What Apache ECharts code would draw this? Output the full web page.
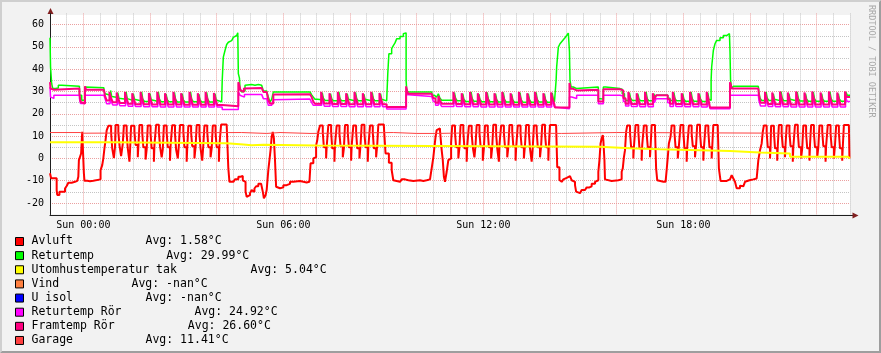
<!DOCTYPE html>
<html><head><meta charset="utf-8">
<script src="https://cdn.jsdelivr.net/npm/echarts@6/dist/echarts.min.js"></script>
<style>html,body{margin:0;padding:0;background:#f2f2f2}#c{width:881px;height:353px}</style>
</head><body><div id="c"></div>
<script>
// time in minutes relative to Sun 00:00, values in °C
const seriesNames = ['Avluft','Returtemp','Utomhustemperatur tak','Vind','U isol','Returtemp Rör','Framtemp Rör','Garage'];
const legendAvg = ['Avg: 1.58°C','Avg: 29.99°C','Avg: 5.04°C','Avg: -nan°C','Avg: -nan°C','Avg: 24.92°C','Avg: 26.60°C','Avg: 11.41°C'];
const xLabelTimes = [0, 360, 720, 1080];
const xLabelTexts = ['Sun 00:00','Sun 06:00','Sun 12:00','Sun 18:00'];
const yLabelValues = [-20,-10,0,10,20,30,40,50,60];

const avluft = [
[-60,-6.7],[-58,-8.9],[-48,-14.2],[-47,-16.4],[-43,-15],[-33,-13.5],[-30,-12.4],[-27,-10.9],[-21,-10.5],[-15,-10.1],[-11,-9.4],[-9,-8.2],[-8,-0.8],[-6,0.7],[-4,2.2],[-2,11.9],[1,-6.7],[2,-10],[7,-10.2],[12,-10],[18,-9.4],[31,-5.3],[34,-3],[36,0],[38,4.5],[40,8.2],[42,12.6],
[45,14.6],[50,11.5],[52,4.5],[55,0.2],[57,5],
[58,15],[63,12],[65,6],[68,1],[71,6.5],
[73,14.8],[78,11],[80,4.5],[83,-1.5],[84,3],
[86,14.6],[92,12],[94,6],[98,0.5],[99,5],
[101,15],[106,11.5],[108,5],[112,-0.5],[114,4],
[116,14.8],[121,11],[123,4.5],[127,-1.5],[128,6],
[131,15.1],[136,12],[138,5.5],[141,0.5],[143,4],
[145,14.7],[150,11.5],[152,5],[156,-1],[157,5.5],
[160,14.9],[165,11],[167,4],[170,0],[172,6],
[174,15],[180,12],[182,5],[186,-1.5],[187,4.5],
[189,14.6],[194,11.5],[196,5.5],[200,0],[202,5],
[204,15],[209,11],[211,4.5],[214,-1],[216,6],
[218,14.8],[223,12],[225,5],[229,0.5],[231,4.5],
[233,14.7],[238,11.5],[240,5],[244,-1.5],[245,6],
[248,15.2],[258,14.5],[261,-4.5],[263,-10.5],
[270,-10.1],[273,-9.4],[279,-8.2],[283,-7.9],[287,-9.8],[290,-10.5],[292,-14.9],[294,-17.2],[297,-16.5],[300,-15.6],[303,-14.2],[306,-15],[308,-13.5],[311,-12.5],[315,-11.4],[320,-12],[323,-14.9],[325,-17.9],[328,-16.5],[330,-14.2],[333,-5.2],[335,-0.8],[337,3.7],[339,9.7],[341,11.9],[343,9],[345,-0.8],[347,-12.7],[349,-13.4],[354,-13],[360,-12],[366,-11.4],[372,-10.5],[378,-10.1],[390,-10.5],[396,-10.8],[402,-10.5],[407,-9.8],[409,-2.2],[414,0],[417,0.5],[419,5.9],[421,8],[423,12],
[426,14.8],[431,11.5],[433,5],[437,0],[438,5],
[441,15],[446,12],[448,4.5],[452,-1.5],[453,6],
[456,14.7],[461,11],[463,5.5],[467,0.5],[469,4.5],
[471,15],[476,11.5],[478,5],[482,-1],[483,5.5],
[486,14.8],[491,12],[493,4.5],[497,0],[499,6],
[501,15.1],[506,11],[508,5],[512,-1.5],[513,5],
[516,14.7],[521,11.5],[523,4.5],[527,0.5],[529,6],
[531,15.2],[541,14],[544,2.2],[550,-2],[555,-5.2],[558,-9.8],[561,-10.5],
[570,-10.1],[573,-9.4],[579,-9.8],[585,-10.1],[594,-9.8],[606,-10.1],[612,-9.8],[618,-9.4],[624,-8.7],[627,-4.5],[630,0.5],[632,5.2],[634,9.7],[636,12.7],[639,13.4],[642,12.5],[645,3.7],[647,-0.8],[649,-8.2],[651,-10.5],[654,-6],[657,-0.8],[660,0],[662,7],
[664,14.8],[669,11.5],[671,5],[675,0],[677,5],
[679,15],[684,12],[686,4.5],[690,-1.5],[691,5.5],
[694,14.6],[699,11],[701,5],[704,0.5],[706,6],
[708,15],[713,11.5],[715,5.5],[719,-1],[721,4.5],
[723,14.8],[728,12],[730,5],[734,0],[736,5],
[738,15.1],[743,11],[745,4.5],[748,-1.5],[749,6],
[752,14.7],[757,11.5],[759,5],[763,0.5],[765,5],
[767,15],[772,12],[774,5.5],[778,-1],[779,4.5],
[782,14.8],[787,11],[789,5],[793,0],[795,6],
[797,15],[802,11.5],[804,4.5],[807,-1.5],[809,5],
[811,14.7],[816,12],[818,5],[822,0.5],[824,5.5],
[826,15.1],[831,11],[833,5],[837,-1],[838,6],
[840,15],[851,14.2],[853,-4],[857,-9.7],
[858,-10.5],[861,-10],[864,-9.4],[867,-8.7],[870,-7.9],[876,-8.5],[879,-9.8],[882,-10.5],[885,-12],[887,-14.9],[889,-15.6],[894,-15.2],[897,-14.2],[903,-13.5],[906,-13],[911,-12.5],[915,-11.4],[921,-10.5],[924,-9.8],[927,-6],[929,-0.8],[931,6.7],[933,9],[935,10.4],[936,8.2],[938,-0.8],[939,-9.4],[941,-10.1],[951,-9.8],[963,-9.6],[966,-9.4],[969,-6],[971,-4.5],[973,0.5],[975,3.7],[977,11.9],
[979,14.8],[984,11.5],[986,5],[990,0],[991,5],
[994,15],[999,12],[1001,4.5],[1005,-1],[1006,6],
[1009,14.7],[1014,11],[1016,5],[1020,0.5],[1021,5],
[1023,15],[1029,13],[1031,-4.5],[1033,-9.8],
[1035,-10.5],[1044,-10.5],[1048,-9.8],[1050,-5.2],[1052,0.5],[1054,6.7],[1057,9.7],
[1059,14.8],[1064,11.5],[1066,5],[1070,0],[1072,5.5],
[1075,15],[1080,12],[1082,4.5],[1086,-1.5],[1087,5],
[1090,14.7],[1095,11],[1097,5.5],[1101,0.5],[1103,6],
[1105,15.1],[1110,11.5],[1112,5],[1116,-1],[1117,4.5],
[1120,14.8],[1125,12],[1127,5],[1131,0],[1132,5],
[1134,15],[1142,14],[1144,-4.5],[1147,-10.1],
[1158,-10.1],[1161,-9.4],[1164,-8.7],[1167,-7.5],[1170,-9],[1173,-10.5],[1176,-13.4],[1182,-12.2],[1185,-12.5],[1188,-12],[1191,-10.5],[1194,-9.8],[1199,-9.4],[1206,-9],[1212,-8.7],[1215,-0.8],[1218,3.7],[1221,6.7],[1223,11.9],
[1225,14.8],[1230,11.5],[1232,5],[1236,0],[1237,5],
[1238,14.6],[1243,12],[1245,4.5],[1249,-1],[1250,5.5],
[1252,15],[1257,11],[1259,5],[1263,0.5],[1264,6],
[1266,14.8],[1271,11.5],[1273,5.5],[1277,-1.5],[1278,5],
[1281,15.1],[1286,12],[1288,5],[1292,0],[1294,4.5],
[1296,14.7],[1301,11],[1303,4.5],[1307,-1],[1308,6],
[1310,15],[1315,11.5],[1317,5],[1321,0.5],[1323,5],
[1325,14.8],[1330,12],[1332,5.5],[1336,-1.5],[1337,5.5],
[1340,15],[1345,11],[1347,5],[1351,0],[1353,6],
[1355,14.7],[1360,11.5],[1362,4.5],[1366,-1],[1367,5],
[1369,15],[1378,14.5],[1379,0],[1380,0]
];

const returtemp = [
[-60,54.1],[-59,41],[-57,33.5],[-55,31.3],[-50,31.6],[-45,32.8],[-39,32.3],[-7,28.3],[-3,26.1],[3,32],[5,31.7],[37,30.5],[39,29],[42,28.3],
[49,30.5],[51,27.8],[54,27.3],
[62,29.5],[64,27],[67,26.5],
[77,29.8],[79,26.8],[82,26],
[90,29],[92,26.5],[95,25.7],
[105,29.8],[107,26.5],[110,25.5],
[120,29],[122,26.3],[125,25.5],
[135,29.8],[137,26.5],[140,25.4],
[149,28.8],[151,26.3],[154,25.4],
[164,29.6],[166,26.5],[169,25.3],
[178,29],[180,26.2],[183,25.3],
[193,29.8],[195,26.5],[198,25.4],
[208,28.8],[210,26.2],[213,25.3],
[222,29.6],[224,26.4],[227,25.3],
[237,29],[239,26.2],[242,25.4],
[249,26],[250,35],[252,45.4],[255,48.4],[258,51.1],[261,52.1],[264,52.8],[267,53.6],[270,54.3],[273,55.1],[276,55.9],[278,56.3],[279,38],[281,36],[282,31.3],[285,29.8],[288,30.2],[291,32.8],[294,33.1],[303,32.8],[309,33.1],[315,32.8],[321,33.1],[324,30.2],[330,29.8],[333,27.5],[336,25.3],[339,26.5],[342,29.8],[408,29.8],[411,28.5],[414,27.5],[417,26.5],[421,26.3],
[430,29.5],[432,27],[435,26],
[445,29],[447,26.8],[450,25.8],
[460,29.8],[462,26.8],[465,25.8],
[475,29],[477,26.5],[480,25.7],
[490,29.6],[492,26.8],[495,25.8],
[505,28.8],[507,26.5],[510,25.7],
[520,29.6],[522,26.8],[525,25.8],
[535,29],[537,26.5],[540,25.8],
[546,26],[548,38],[550,46.9],[555,49.2],[558,50.6],[561,51.8],[564,53.6],[570,54.7],[576,55.9],[579,56.3],[581,35],[582,31],[584,29.8],[627,29.8],[628,28.3],[632,27.5],[636,26.8],[639,29],[642,27],[645,26.1],
[668,29.5],[670,27],[673,25.8],
[683,29],[685,26.5],[688,25.5],
[698,29.8],[700,26.8],[703,25.6],
[712,28.8],[714,26.4],[717,25.4],
[727,29.6],[729,26.6],[732,25.4],
[742,29],[744,26.3],[747,25.3],
[756,29.6],[758,26.5],[761,25.3],
[771,28.8],[773,26.2],[776,25.2],
[786,29.5],[788,26.4],[791,25.2],
[801,29],[803,26.3],[806,25.2],
[815,29.6],[817,26.5],[820,25.3],
[830,29],[832,26.2],[835,25.2],
[844,29.4],[846,26.3],[848,25.3],
[849,26],[851,35],[852,41],[855,49.9],[858,51.4],[861,52.3],[864,53.2],[867,54.1],[870,55.1],[873,56.2],[875,48],[876,35],[878,32],[882,31.3],[888,32],[927,26.8],[931,26.5],[936,32],[940,31.3],[966,31],[970,29],[974,27],[977,26],
[983,29.5],[985,27],[988,26],
[998,29],[1000,26.8],[1003,25.8],
[1013,29.8],[1015,26.8],[1018,25.8],
[1027,29],[1029,27],
[1031,28.3],[1052,27],[1056,26],
[1063,29.6],[1065,26.8],[1068,25.8],
[1079,29],[1081,26.5],[1084,25.6],
[1094,29.8],[1096,26.8],[1099,25.6],
[1109,29],[1111,26.5],[1114,25.5],
[1124,29.5],[1126,26.5],
[1128,26],[1130,35],[1131,41],[1134,48.4],[1137,51.4],[1140,52.9],[1146,54.1],[1152,55.1],[1158,55.9],[1163,56.3],[1164,48],[1165,35],[1167,31.3],[1170,32.3],[1215,32.3],[1216,29.8],[1218,27],[1221,26],
[1229,29.8],[1231,27],[1234,26],
[1242,29],[1244,26.5],[1247,25.8],
[1256,30],[1258,27],[1261,25.8],
[1270,29],[1272,26.5],[1275,25.7],
[1285,29.8],[1287,26.8],[1290,25.7],
[1300,29],[1302,26.5],[1305,25.6],
[1314,29.8],[1316,26.8],[1319,25.6],
[1329,29],[1331,26.5],[1334,25.6],
[1344,29.8],[1346,26.8],[1349,25.6],
[1359,29],[1361,26.5],[1364,25.6],
[1373,29.6],[1375,28.3],[1380,28.3]
];

const utomhus = [
[-60,7.2],[48,6.8],[258,6.2],[288,5.9],[303,6.1],[324,5.8],[420,5.6],[630,5.2],[930,4.5],[984,4.1],[1038,3.3],[1164,2.7],[1218,2.2],[1272,0.7],[1376,0.1],[1380,0.1]
];

const vind = [];
const uIsol = [];

const returtempRor = [
[-60,32],[-59,27.5],[-57,26.9],[-53,28.3],[-7,26.8],[-5,24.6],[3,28.3],[37,27.5],[39,26.8],[42,24.5],
[48,27.5],[50,25.5],[53,24],
[61,27],[63,25.2],[66,23.6],
[76,27.5],[78,25.3],[81,23.4],
[89,26.8],[91,25],[94,23.3],
[104,27.5],[106,25.3],[109,23.2],
[119,26.8],[121,25],[124,23.2],
[134,27.5],[136,25.3],[139,23.1],
[148,26.8],[150,25],[153,23.1],
[163,27.5],[165,25.3],[168,23.1],
[177,26.8],[179,25],[182,23],
[192,27.5],[194,25.3],[197,23],
[207,26.8],[209,25],[212,23],
[221,27.5],[223,25.3],[226,23],
[236,26.8],[238,25],[241,23],
[250,21.9],[279,29.8],[282,28.3],[285,27.5],[290,28.7],[321,28.7],[324,26.8],[330,26.2],[333,23.8],[339,24.5],[342,26.3],[345,26.6],[408,26.6],[411,25],[414,23.8],
[429,27.5],[431,25.3],[434,23.4],
[444,26.8],[446,25],[449,23.3],
[459,27.5],[461,25.3],[464,23.3],
[474,26.8],[476,25],[479,23.2],
[489,27.5],[491,25.3],[494,23.2],
[504,26.8],[506,25],[509,23.2],
[519,27.5],[521,25.3],[524,23.2],
[534,26.8],[536,25],[539,23.2],
[546,22.2],[581,28.5],[585,27.8],[627,27.8],[630,25.5],[634,23.8],[639,26],[642,24.5],[645,23.3],
[667,27.5],[669,25.3],[672,23.3],
[682,26.8],[684,25],[687,23.2],
[697,27.5],[699,25.3],[702,23.2],
[711,26.8],[713,25],[716,23.1],
[726,27.5],[728,25.3],[731,23.1],
[741,26.8],[743,25],[746,23.1],
[755,27.5],[757,25.3],[760,23],
[770,26.8],[772,25],[775,23],
[785,27.5],[787,25.3],[790,23],
[800,26.8],[802,25],[805,23],
[814,27.5],[816,25.3],[819,23],
[829,26.8],[831,25],[834,23],
[843,27.3],[845,25.2],[848,23],
[849,22.3],[875,27.5],[879,26.9],[888,28.3],[927,24.5],[936,28.3],[966,28],[972,25.5],[976,23.5],
[982,27.5],[984,25.3],[987,23.3],
[997,26.8],[999,25],[1002,23.2],
[1012,27.5],[1014,25.3],[1017,23.2],
[1026,26.8],[1028,25],
[1031,26.8],[1052,25],[1056,23.3],
[1062,27.5],[1064,25.3],[1067,23.3],
[1078,26.8],[1080,25],[1083,23.2],
[1093,27.5],[1095,25.3],[1098,23.2],
[1108,26.8],[1110,25],[1113,23.1],
[1123,27.5],[1125,25.3],
[1128,22.3],[1164,28.3],[1215,28.3],[1216,26],[1219,23.5],
[1228,27.5],[1230,25.3],[1233,23.3],
[1241,27],[1243,25],[1246,23.2],
[1255,27.8],[1257,25.3],[1260,23.2],
[1269,27],[1271,25],[1274,23.1],
[1284,27.8],[1286,25.3],[1289,23.1],
[1299,27],[1301,25],[1304,23.1],
[1313,27.8],[1315,25.3],[1318,23.1],
[1328,27],[1330,25],[1333,23.1],
[1343,27.8],[1345,25.3],[1348,23.1],
[1358,27],[1360,25],[1363,23.1],
[1372,27.5],[1375,25.5],[1380,25.5]
];

const framtempRor = [
[-60,34.2],[-59,31.3],[-57,30.8],[-53,31.3],[-7,29],[-5,25.3],[-2,24.6],[3,32.3],[5,30.8],[37,30],[39,28],[42,26],
[47,29.8],[50,27],[53,25.2],
[60,29.5],[63,26.8],[66,24.8],
[75,29.8],[78,26.8],[81,24.5],
[88,29.2],[91,26.5],[94,24.3],
[103,29.8],[106,26.8],[109,24.3],
[118,29.3],[121,26.5],[124,24.2],
[133,29.8],[136,26.8],[139,24.2],
[147,29.2],[150,26.5],[153,24.2],
[162,29.8],[165,26.8],[168,24.2],
[176,29.2],[179,26.5],[182,24.1],
[191,29.8],[194,26.8],[197,24.1],
[206,29.2],[209,26.5],[212,24.1],
[220,29.8],[223,26.8],[226,24.1],
[235,29.3],[238,26.5],[241,24],
[250,23.4],[279,34.2],[281,32.5],[283,30.5],[285,29.8],[289,31.3],[291,31.6],[321,31.6],[324,29.8],[330,29],[333,26.2],[336,24.6],[342,28.7],[345,28.8],[408,28.8],[411,27.5],[414,25.5],[417,24.5],
[428,29.8],[431,26.8],[434,24.6],
[443,29.2],[446,26.5],[449,24.4],
[458,29.8],[461,26.8],[464,24.4],
[473,29.2],[476,26.5],[479,24.3],
[488,29.8],[491,26.8],[494,24.3],
[503,29.2],[506,26.5],[509,24.3],
[518,29.8],[521,26.8],[524,24.3],
[533,29.3],[536,26.5],[539,24.3],
[546,23],[581,32.3],[583,30],[585,29],[627,29],[630,27],[634,25],[639,28],[642,26],[645,24.5],
[666,29.8],[669,26.8],[672,24.4],
[681,29.2],[684,26.5],[687,24.3],
[696,29.8],[699,26.8],[702,24.3],
[710,29.2],[713,26.5],[716,24.2],
[725,29.8],[728,26.8],[731,24.2],
[740,29.2],[743,26.5],[746,24.2],
[754,29.8],[757,26.8],[760,24.1],
[769,29.2],[772,26.5],[775,24.1],
[784,29.8],[787,26.8],[790,24.1],
[799,29.2],[802,26.5],[805,24.1],
[813,29.8],[816,26.8],[819,24.1],
[828,29.2],[831,26.5],[834,24.1],
[842,29.6],[845,26.6],[848,24.1],
[849,22.8],[875,33.8],[877,31.2],[882,30.5],[888,30.8],[927,25.5],[936,31],[966,30.5],[972,27],[976,24.5],
[981,29.8],[984,26.8],[987,24.4],
[996,29.2],[999,26.5],[1002,24.3],
[1011,29.8],[1014,26.8],[1017,24.3],
[1025,29.2],[1028,26.5],
[1031,28.3],[1052,26.5],[1056,24.5],
[1061,29.8],[1064,26.8],[1067,24.4],
[1077,29.2],[1080,26.5],[1083,24.3],
[1092,29.8],[1095,26.8],[1098,24.3],
[1107,29.2],[1110,26.5],[1113,24.2],
[1122,29.8],[1125,26.8],
[1128,22.8],[1164,34.2],[1166,32.5],[1167,31.3],[1215,31.3],[1216,28.5],[1219,25],
[1227,29.8],[1230,26.8],[1233,24.4],
[1240,29.5],[1243,26.5],[1246,24.3],
[1254,30],[1257,26.8],[1260,24.3],
[1268,29.5],[1271,26.5],[1274,24.2],
[1283,30],[1286,26.8],[1289,24.2],
[1298,29.5],[1301,26.5],[1304,24.2],
[1312,30],[1315,26.8],[1318,24.2],
[1327,29.5],[1330,26.5],[1333,24.2],
[1342,30],[1345,26.8],[1348,24.2],
[1357,29.5],[1360,26.5],[1363,24.2],
[1371,30],[1374,27.5],[1380,27.5]
];

const garage = [
[-60,11.6],[-6,11.3],[-1,11.6],[285,11.2],[330,11.6],[354,11.2],[408,11.6],[558,11.2],[600,11.5],[602,11.2],[636,11.6],[732,11.2],[861,11.6],[960,11.2],[1380,11.2]
];

const seriesData = [avluft, returtemp, utomhus, vind, uIsol, returtempRor, framtempRor, garage];

// ---- styling ----
const seriesColors = ['#ff0000','#00ff00','#ffff00','#ff8040','#0000ff','#ff00ff','#ff0080','#ff4040'];
const lineWidths = [2, 1.5, 2, 1, 1, 1.5, 2, 1];
const nameWidths = [114, 134.7, 219, 100, 114, 163, 156.3, 114];
const MONO = '"DejaVu Sans Mono", monospace';
const minorC = '#c4c4c4', majorC = '#eba0a0';

const rich = { a: { fontFamily: MONO, fontSize: 11.5, lineHeight: 14, color: '#000' } };
nameWidths.forEach((w, i) => { rich['n' + i] = { width: w, fontFamily: MONO, fontSize: 11.5, lineHeight: 14, color: '#000' }; });

const chart = echarts.init(document.getElementById('c'), null, { renderer: 'canvas' });
chart.setOption({
  animation: false,
  backgroundColor: '#f2f2f2',
  grid: { left: 50, top: 13.45, width: 800, height: 200.7, show: true, backgroundColor: '#ffffff', borderWidth: 0, containLabel: false, outerBoundsMode: 'none' },
  xAxis: {
    type: 'value', min: -60, max: 1380, interval: 30, offset: 1,
    axisLine: { show: true, onZero: false, lineStyle: { color: '#1f1f1f', width: 1 } },
    axisTick: { show: false },
    axisLabel: {
      margin: 5, fontFamily: MONO, fontSize: 10, color: '#000',
      formatter: v => { const k = xLabelTimes.indexOf(v); return k >= 0 ? xLabelTexts[k] : ''; }
    },
    splitLine: { show: true, lineStyle: { color: [minorC, minorC, majorC, minorC], type: [1, 1], width: 1 } }
  },
  yAxis: {
    type: 'value', min: -25, max: 65, interval: 5,
    axisLine: { show: true, onZero: false, lineStyle: { color: '#1f1f1f', width: 1 } },
    axisTick: { show: false },
    axisLabel: {
      margin: 6, fontFamily: MONO, fontSize: 10, color: '#000',
      formatter: v => yLabelValues.indexOf(v) >= 0 ? String(v) : ''
    },
    splitLine: { show: true, showMinLine: false, showMaxLine: false, lineStyle: { color: [majorC, minorC], type: [1, 1], width: 1 } }
  },
  legend: {
    orient: 'vertical', left: 15, top: 234.5, padding: 0, itemGap: 0.14, itemWidth: 8, itemHeight: 8,
    icon: 'rect', selectedMode: false,
    itemStyle: { borderColor: '#000', borderWidth: 1 },
    textStyle: { fontFamily: MONO, fontSize: 11.5, lineHeight: 14, color: '#000', padding: [0, 0, 0, 3], rich: rich },
    formatter: name => { const i = seriesNames.indexOf(name); return '{n' + i + '|' + name + '}{a|' + legendAvg[i] + '}'; },
    data: seriesNames
  },
  series: seriesNames.map((name, i) => ({
    name: name, type: 'line', data: seriesData[i], step: 'end',
    symbol: 'none', showSymbol: false, silent: true, clip: true,
    color: seriesColors[i],
    itemStyle: { color: seriesColors[i] },
    lineStyle: { color: seriesColors[i], width: lineWidths[i] },
    z: 2 + i
  })),
  graphic: {
    z: 100,
    elements: [
      { type: 'rect', shape: { x: 51, y: 12, width: 800, height: 3 }, style: { fill: '#f2f2f2' }, silent: true },
      { type: 'polygon', shape: { points: [[0,353],[2,351],[2,2],[879,2],[881,0],[0,0]] }, style: { fill: '#cfcfcf' }, silent: true },
      { type: 'polygon', shape: { points: [[2,351],[879,351],[879,2],[881,0],[881,353],[0,353]] }, style: { fill: '#9e9e9e' }, silent: true },
      { type: 'line', shape: { x1: 50.5, y1: 11, x2: 50.5, y2: 216 }, style: { stroke: '#1f1f1f', lineWidth: 1 }, silent: true },
      { type: 'line', shape: { x1: 50, y1: 215.5, x2: 854, y2: 215.5 }, style: { stroke: '#1f1f1f', lineWidth: 1 }, silent: true },
      { type: 'polygon', shape: { points: [[47.5,14],[53.5,14],[50.5,8]] }, style: { fill: '#801f1f' }, silent: true },
      { type: 'polygon', shape: { points: [[852.5,212.5],[852.5,218.5],[858.5,215.5]] }, style: { fill: '#801f1f' }, silent: true },
      { type: 'text', x: 871.5, y: 5, rotation: -Math.PI / 2, silent: true,
        style: { text: 'RRDTOOL / TOBI OETIKER', font: '8.5px ' + MONO, fill: '#a8a8a8', textAlign: 'left', textVerticalAlign: 'middle' } }
    ]
  }
});
</script>
</body></html>
